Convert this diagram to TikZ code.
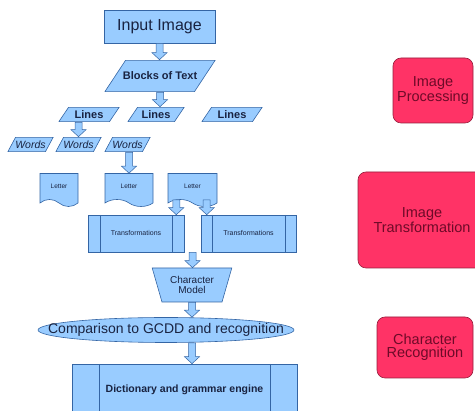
\documentclass[tikz,border=0pt]{standalone}
\usepackage{fontspec}
\setmainfont{Liberation Sans}
\usetikzlibrary{shapes.geometric, shapes.symbols, calc}

\definecolor{boxblue}{RGB}{153,204,255}
\definecolor{edgeblue}{RGB}{52,101,164}
\definecolor{inkblue}{RGB}{25,35,65}
\definecolor{boxpink}{RGB}{255,51,102}
\definecolor{edgepink}{RGB}{150,30,60}
\definecolor{inkpink}{RGB}{110,10,40}

\tikzset{
    flow/.style={draw=edgeblue, fill=boxblue, line width=0.6pt, inner sep=0pt, align=center, text=inkblue},
    % parallelogram inside the node's box, #1 is the slant offset
    slanted/.style={flow, rectangle, draw=none, fill=none, path picture={
        \draw[edgeblue, fill=boxblue, line width=0.6pt]
            ([shift={(0.4pt,0.4pt)}]path picture bounding box.south west)
            -- ([shift={(#1,-0.4pt)}]path picture bounding box.north west)
            -- ([shift={(-0.4pt,-0.4pt)}]path picture bounding box.north east)
            -- ([shift={(-#1,0.4pt)}]path picture bounding box.south east) -- cycle;}},
    process/.style={flow, rectangle, path picture={
        \draw[edgeblue, line width=0.6pt]
            ([xshift=#1]path picture bounding box.north west) -- ([xshift=#1]path picture bounding box.south west)
            ([xshift=-#1]path picture bounding box.north east) -- ([xshift=-#1]path picture bounding box.south east);}},
    letterdoc/.style={flow, tape, tape bend top=none, tape bend bottom=out and in, tape bend height=7pt,
        minimum height=33pt, font=\fontsize{6.5}{7}\selectfont},
    module/.style={draw=edgepink, fill=boxpink, line width=0.6pt, rounded corners=8pt, align=center,
        text=inkpink, inner sep=0pt, font=\fontsize{14.5}{13}\selectfont},
    flowarrow/.style={draw=edgeblue, fill=boxblue, line width=0.5pt, line join=miter}
}

% fat hollow arrow pointing down, drawn at the x of the first point
\newcommand{\blockarrow}[2]{%
    \draw[flowarrow] let \p1=(#1), \p2=(#2) in
        (\x1-3.5pt,\y1) -- (\x1-3.5pt,\y2+7pt) -- (\x1-7.5pt,\y2+7pt) -- (\x1,\y2)
        -- (\x1+7.5pt,\y2+7pt) -- (\x1+3.5pt,\y2+7pt) -- (\x1+3.5pt,\y1) -- cycle;}

\begin{document}
\begin{tikzpicture}[x=1pt, y=-1pt]
    \useasboundingbox (0,0) rectangle (475,411);

    % main flow
    \node[flow, rectangle, minimum width=111pt, minimum height=33pt, font=\fontsize{16}{18}\selectfont] (input) at (159.5,26.5) {Input Image};
    \node[slanted=21pt, minimum width=111pt, minimum height=32pt, font=\bfseries\fontsize{11}{13}\selectfont] (blocks) at (160,76) {Blocks of Text};

    \foreach \x/\w/\n in {89/61/1, 156/57/2, 232/61/3}
        \node[slanted=10pt, minimum width=\w pt, minimum height=15pt, font=\bfseries\fontsize{11}{13}\selectfont] (lines\n) at (\x,114.5) {Lines};
    \foreach \x/\n in {30.5/1, 78.5/2, 127.5/3}
        \node[slanted=8pt, minimum width=46pt, minimum height=15pt, font=\itshape\fontsize{10.5}{12}\selectfont] (words\n) at (\x,144.5) {Words};
    \foreach \x/\w/\n in {59/38/1, 129/48/2, 192.5/49/3}
        \node[letterdoc, minimum width=\w pt] (letter\n) at (\x,186.5) {Letter};

    \node[process=12pt, minimum width=96pt, minimum height=37pt, font=\fontsize{7}{8}\selectfont] (trans1) at (136,233.5) {Transformations};
    \node[process=11pt, minimum width=95pt, minimum height=37pt, font=\fontsize{7}{8}\selectfont] (trans2) at (248.5,233.5) {Transformations};

    \node[flow, trapezium, trapezium left angle=67, trapezium right angle=67, shape border rotate=180,
        trapezium stretches=true, minimum width=80pt, minimum height=34pt,
        font=\fontsize{10}{9.5}\selectfont] (model) at (192,285) {Character\\Model};

    \node[flow, ellipse, minimum width=256pt, minimum height=25pt, inner xsep=-30pt,
        font=\fontsize{14}{16}\selectfont] (compare) at (166,330) {Comparison to GCDD and recognition};

    \node[process=27pt, minimum width=225pt, minimum height=52pt, font=\bfseries\fontsize{10.5}{12}\selectfont] (dict) at (184.5,390) {Dictionary and grammar engine};

    % connectors
    \blockarrow{input.south}{blocks.north}
    \blockarrow{blocks.south}{lines2.north -| blocks.south}
    \blockarrow{lines1.south -| words2.north}{words2.north}
    \blockarrow{words3.south -| letter2.north}{letter2.north}
    \blockarrow{[xshift=-8pt]trans1.north east |- letter3.south}{[xshift=-8pt]trans1.north east}
    \blockarrow{[xshift=6pt]trans2.north west |- letter3.south}{[xshift=6pt]trans2.north west}
    \blockarrow{$(trans1.south east)!0.5!(trans2.south west)$}{model.north}
    \blockarrow{model.south}{compare.north -| model.south}
    \blockarrow{compare.south -| model.south}{dict.north -| model.south}

    % stages
    \node[module, minimum width=80pt, minimum height=65pt] (improc) at (433,90.5) {Image\\Processing};
    \node[module, minimum width=128pt, minimum height=96pt] (imtrans) at (422,220) {Image\\Transformation};
    \node[module, minimum width=96pt, minimum height=61pt] (charrec) at (425,347.5) {Character\\Recognition};
\end{tikzpicture}
\end{document}
